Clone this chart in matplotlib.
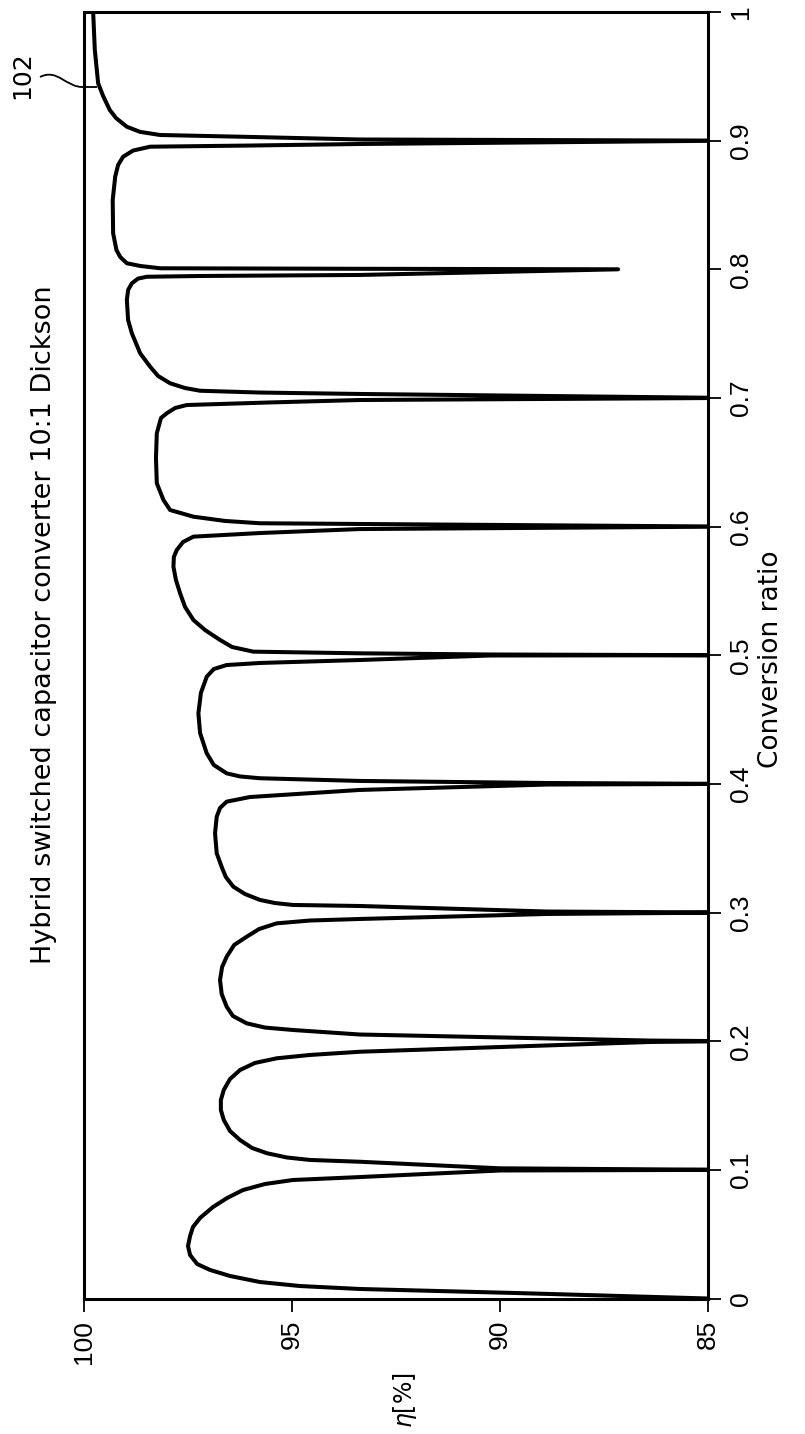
import matplotlib
matplotlib.use("Agg")
import matplotlib.pyplot as plt
from matplotlib.path import Path
from matplotlib.patches import PathPatch

# ---- data (conversion ratio vs efficiency) ----
ratio = [
    # 0 - 0.1
    0.0000, 0.0043, 0.0074, 0.0097, 0.0128, 0.0175, 0.0222, 0.0268, 0.0338, 0.0408,
    0.0486, 0.0556, 0.0626, 0.0711, 0.0781, 0.0843, 0.0890, 0.0921, 0.0944, 0.0995,
    0.1000,
    # 0.1 - 0.2
    0.1012, 0.1063, 0.1077, 0.1096, 0.1129, 0.1170, 0.1232, 0.1302, 0.1388, 0.1465,
    0.1543, 0.1621, 0.1706, 0.1776, 0.1831, 0.1867, 0.1893, 0.1918, 0.1994, 0.2000,
    # 0.2 - 0.3
    0.2005, 0.2052, 0.2087, 0.2106, 0.2139, 0.2196, 0.2268, 0.2367, 0.2476, 0.2577,
    0.2657, 0.2748, 0.2812, 0.2872, 0.2916, 0.2938, 0.2950, 0.2989, 0.3000,
    # 0.3 - 0.4
    0.3008, 0.3051, 0.3059, 0.3074, 0.3098, 0.3144, 0.3201, 0.3276, 0.3346, 0.3461,
    0.3616, 0.3745, 0.3813, 0.3862, 0.3898, 0.3953, 0.3995, 0.4000,
    # 0.4 - 0.5
    0.4007, 0.4023, 0.4044, 0.4058, 0.4082, 0.4147, 0.4238, 0.4396, 0.4549, 0.4707,
    0.4833, 0.4893, 0.4924, 0.4940, 0.4963, 0.4998, 0.5000,
    # 0.5 - 0.6
    0.5006, 0.5015, 0.5028, 0.5064, 0.5119, 0.5196, 0.5274, 0.5375, 0.5482, 0.5585,
    0.5688, 0.5764, 0.5818, 0.5880, 0.5922, 0.5950, 0.5981, 0.6000,
    # 0.6 - 0.7
    0.6020, 0.6026, 0.6044, 0.6077, 0.6129, 0.6207, 0.6337, 0.6533, 0.6725, 0.6844,
    0.6881, 0.6922, 0.6945, 0.6965, 0.6984, 0.7000,
    # 0.7 - 0.8
    0.7031, 0.7042, 0.7056, 0.7077, 0.7114, 0.7171, 0.7243, 0.7347, 0.7503, 0.7606,
    0.7761, 0.7839, 0.7891, 0.7928, 0.7942, 0.7948, 0.7956, 0.8000,
    # 0.8 - 0.9
    0.8004, 0.8008, 0.8026, 0.8047, 0.8096, 0.8150, 0.8280, 0.8539, 0.8720, 0.8811,
    0.8875, 0.8923, 0.8953, 0.8962, 0.8974, 0.9000,
    # 0.9 - 1.0
    0.9009, 0.9029, 0.9044, 0.9068, 0.9108, 0.9176, 0.9238, 0.9347, 0.9446, 0.9705,
    1.0000,
]
efficiency = [
    # 0 - 0.1
    85.00, 89.66, 93.37, 94.81, 95.77, 96.49, 96.97, 97.28, 97.45, 97.50,
    97.45, 97.38, 97.21, 96.90, 96.56, 96.18, 95.65, 94.98, 93.37, 90.00,
    84.50,
    # 0.1 - 0.2
    90.00, 93.37, 94.57, 95.12, 95.60, 95.96, 96.25, 96.49, 96.64, 96.71,
    96.71, 96.64, 96.49, 96.25, 95.89, 95.37, 94.57, 93.37, 86.39, 84.50,
    # 0.2 - 0.3
    86.39, 93.37, 94.97, 95.65, 96.09, 96.42, 96.57, 96.69, 96.73, 96.68,
    96.57, 96.39, 96.09, 95.79, 95.37, 94.57, 93.37, 88.87, 84.50,
    # 0.3 - 0.4
    88.87, 93.37, 94.98, 95.41, 95.77, 96.13, 96.41, 96.59, 96.68, 96.81,
    96.85, 96.81, 96.73, 96.57, 96.01, 93.37, 88.87, 84.50,
    # 0.4 - 0.5
    88.87, 93.37, 95.77, 96.25, 96.57, 96.88, 97.05, 97.21, 97.25, 97.19,
    97.05, 96.88, 96.57, 95.77, 93.37, 90.24, 84.50,
    # 0.5 - 0.6
    90.24, 93.37, 95.93, 96.44, 96.73, 97.09, 97.37, 97.57, 97.69, 97.79,
    97.85, 97.84, 97.77, 97.62, 97.37, 95.77, 93.37, 84.50,
    # 0.6 - 0.7
    93.37, 95.77, 96.61, 97.37, 97.93, 98.09, 98.25, 98.27, 98.25, 98.15,
    98.01, 97.81, 97.53, 95.53, 93.37, 84.50,
    # 0.7 - 0.8
    93.37, 95.77, 97.21, 97.57, 97.93, 98.22, 98.41, 98.65, 98.85, 98.94,
    98.97, 98.94, 98.85, 98.70, 98.49, 97.21, 93.37, 87.16,
    # 0.8 - 0.9
    93.37, 98.17, 98.65, 98.97, 99.13, 99.22, 99.30, 99.31, 99.25, 99.18,
    99.06, 98.82, 98.41, 96.01, 93.37, 84.50,
    # 0.9 - 1.0
    93.37, 96.01, 98.17, 98.65, 98.97, 99.23, 99.38, 99.54, 99.66, 99.74,
    99.78,
]

eta_ticks = [100, 95, 90, 85]
eta_ticklabels = ["100", "95", "90", "85"]
ratio_ticks = [0, 0.1, 0.2, 0.3, 0.4, 0.5, 0.6, 0.7, 0.8, 0.9, 1.0]
ratio_ticklabels = ["0", "0.1", "0.2", "0.3", "0.4", "0.5", "0.6", "0.7", "0.8", "0.9", "1"]

title = "Hybrid switched capacitor converter 10:1 Dickson"
xlabel = "Conversion ratio"
ylabel = r"$\eta$[%]"
ref_label = "102"

W, H = 805, 1434
fig = plt.figure(figsize=(W / 100, H / 100), dpi=100)
L, R, T, B = 84, 708, 12, 1298.5
ax = fig.add_axes([L / W, 1 - B / H, (R - L) / W, (B - T) / H])

# rotated chart: efficiency runs horizontally (100 at left), ratio vertically
ax.plot(efficiency, ratio, color="black", lw=2.9, solid_joinstyle="round",
        solid_capstyle="round")
ax.set_xlim(100, 85)
ax.set_ylim(0, 1)

for s in ax.spines.values():
    s.set_linewidth(2.2)

tick_font = dict(family="Liberation Sans", size=19)
ax.set_xticks(eta_ticks)
ax.set_xticklabels(eta_ticklabels, rotation=90, fontdict=tick_font)
ax.yaxis.tick_right()
ax.set_yticks(ratio_ticks)
ax.set_yticklabels(ratio_ticklabels, rotation=90, va="center", fontdict=tick_font)
ax.tick_params(axis="x", direction="out", length=9.5, width=1.3, pad=6)
ax.tick_params(axis="y", direction="out", length=9, width=1.3, pad=6)

# title on the left (rotated)
fig.text(44 / W, 1 - 625 / H, title, rotation=90, ha="center", va="center",
         fontsize=19.5, family="DejaVu Sans")
# x label on the right (rotated)
fig.text(771 / W, 1 - 659 / H, xlabel, rotation=90, ha="center", va="center",
         fontsize=19, family="DejaVu Sans")
# y label at the bottom (rotated)
fig.text(405 / W, 1 - 1400 / H, ylabel, rotation=90, ha="center", va="center",
         fontsize=17, family="DejaVu Sans")

# reference numeral and leader
fig.text(22 / W, 1 - 75 / H, ref_label, rotation=90, ha="center", va="center",
         fontsize=18, family="DejaVu Sans")
pts = [(40, 77), (58, 68), (66, 88), (84, 87), (97, 87)]
verts = [(x / W, 1 - y / H) for x, y in pts]
codes = [Path.MOVETO, Path.CURVE4, Path.CURVE4, Path.CURVE4, Path.LINETO]
fig.add_artist(PathPatch(Path(verts, codes), transform=fig.transFigure,
                         fill=False, lw=1.3, color="black"))

fig.savefig("out.png", dpi=100)
